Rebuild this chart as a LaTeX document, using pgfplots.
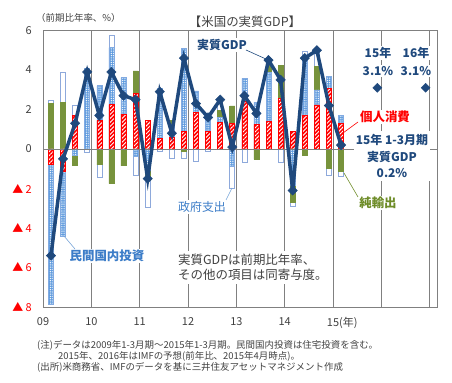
\documentclass[border=0pt]{standalone}
\usepackage{fontspec}
\setmainfont{Noto Sans CJK JP}
\usepackage{pgfplots}
\pgfplotsset{compat=1.18}
\usepackage{pgfplotstable}
\usetikzlibrary{patterns.meta}

\definecolor{navy}{RGB}{31,73,125}
\definecolor{invblue}{RGB}{95,155,222}
\definecolor{invedge}{RGB}{130,170,225}
\definecolor{govblue}{RGB}{142,169,219}
\definecolor{olive}{RGB}{119,147,60}
\definecolor{gridgray}{RGB}{128,128,128}
\definecolor{txtgray}{RGB}{64,64,64}
\definecolor{lblblue}{RGB}{60,125,200}
\definecolor{lblolive}{RGB}{110,140,40}

% x = quarter position (2009Q1 ... 2015Q1), c = consumption, i = private investment,
% n = net exports, g = government, gdp = real GDP (q/q annualised)
\pgfplotstableread{
x     c     i     n     g     gdp
0.66  -0.80 -7.05 2.30  0.15  -5.4
1.66  -1.15 -3.25 2.35  1.55  -0.5
2.66  1.70  -0.30 -0.55 0.50  1.3
3.66  0.00  4.10  0.00  -0.17 3.9
4.66  1.45  1.75  -0.80 -0.62 1.7
5.66  2.25  2.88  -1.75 0.62  3.9
6.66  1.77  1.85  -0.85 0.00  2.7
7.66  2.80  -0.35 1.15  -0.97 2.5
8.66  1.43  -1.10 -0.50 -1.35 -1.5
9.66  0.55  2.50  0.00  -0.10 2.9
10.66 0.57  0.68  0.18  -0.47 0.8
11.66 0.91  4.19  -0.13 -0.34 4.6
12.66 1.86  1.08  0.00  -0.60 2.3
13.66 0.88  0.80  0.00  -0.10 1.6
14.66 1.35  0.25  0.35  0.55  2.5
15.66 1.30  -0.90 0.88  -1.10 0.1
16.66 2.40  1.18  0.00  -0.68 2.7
17.66 1.25  1.12  -0.52 0.00  1.8
18.66 1.38  2.48  0.39  0.25  4.5
19.66 2.57  0.00  1.68  -0.69 3.5
20.66 0.88  -1.85 -0.85 -0.20 -2.1
21.66 1.72  3.04  -0.30 0.20  4.6
22.66 2.23  0.76  1.18  0.68  5.0
23.66 3.07  0.59  -0.98 -0.34 2.2
24.66 1.30  0.42  -1.15 -0.22 0.2
}\gdpdata

\pgfplotsset{
  barbase/.style={ybar, bar width=5bp, bar shift=0pt, line width=0.6bp, forget plot},
  cbar/.style={barbase, draw=red, fill=red,
    postaction={pattern={Lines[angle=45,distance=2.8bp,line width=0.9bp]}, pattern color=white}},
  ibar/.style={barbase, draw=invedge, fill=invblue,
    postaction={pattern={Dots[distance=1.8bp,radius=0.55bp]}, pattern color=white}},
  nbar/.style={barbase, draw=olive, fill=olive},
  gbar/.style={barbase, draw=govblue, fill=white},
}

\begin{document}
\begin{tikzpicture}
\begin{axis}[
  at={(43bp,76bp)}, anchor=south west,
  scale only axis, width=394bp, height=276.5bp,
  xmin=0, xmax=32.6, ymin=-8, ymax=6,
  xtick={0,4,...,32},
  xticklabels={09,10,11,12,13,14,{15\rlap{(年)}},{},{}},
  ytick={-8,-6,...,6},
  yticklabels={{\textcolor{red}{▲ 8}},{\textcolor{red}{▲ 6}},{\textcolor{red}{▲ 4}},{\textcolor{red}{▲ 2}},0,2,4,6},
  xmajorgrids,
  major grid style={gridgray, line width=0.8bp},
  axis line style={gridgray, line width=0.8bp},
  major tick length=0pt,
  tick label style={font=\fontsize{11}{11}\selectfont, text=txtgray},
  yticklabel style={anchor=east, inner sep=0pt, xshift=-11bp},
  xticklabel style={anchor=north, inner sep=0pt, yshift=-10bp},
]
% positive stacks (layers drawn from the top segment down)
\addplot[gbar, restrict expr to domain={\thisrow{g}}{0.0001:100}] table[x=x, y expr={max(\thisrow{c},0)+max(\thisrow{i},0)+max(\thisrow{n},0)+\thisrow{g}}] {\gdpdata};
\addplot[nbar, restrict expr to domain={\thisrow{n}}{0.0001:100}] table[x=x, y expr={max(\thisrow{c},0)+max(\thisrow{i},0)+\thisrow{n}}] {\gdpdata};
\addplot[ibar, restrict expr to domain={\thisrow{i}}{0.0001:100}] table[x=x, y expr={max(\thisrow{c},0)+\thisrow{i}}] {\gdpdata};
\addplot[cbar, restrict expr to domain={\thisrow{c}}{0.0001:100}] table[x=x, y=c] {\gdpdata};
% negative stacks
\addplot[gbar, restrict expr to domain={\thisrow{g}}{-100:-0.0001}] table[x=x, y expr={min(\thisrow{c},0)+min(\thisrow{i},0)+min(\thisrow{n},0)+\thisrow{g}}] {\gdpdata};
\addplot[nbar, restrict expr to domain={\thisrow{n}}{-100:-0.0001}] table[x=x, y expr={min(\thisrow{c},0)+min(\thisrow{i},0)+\thisrow{n}}] {\gdpdata};
\addplot[ibar, restrict expr to domain={\thisrow{i}}{-100:-0.0001}] table[x=x, y expr={min(\thisrow{c},0)+\thisrow{i}}] {\gdpdata};
\addplot[cbar, restrict expr to domain={\thisrow{c}}{-100:-0.0001}] table[x=x, y=c] {\gdpdata};

\draw[gridgray, line width=0.8bp] (axis cs:0,0) -- (axis cs:32.6,0);

\addplot[navy, line width=3.5bp, mark=square*, mark size=3.3bp,
  mark options={fill=navy, rotate=45, line width=0.5bp}] table[x=x, y=gdp] {\gdpdata};
\addplot[only marks, navy, mark=square*, mark size=3.2bp, mark options={fill=navy, rotate=45}]
  coordinates {(27.66,3.1) (31.66,3.1)};
\end{axis}

\begin{scope}[x=1bp, y=-1bp, shift={(0bp,383bp)}]
\node[anchor=west, font=\fontsize{9.5}{10}\selectfont, text=txtgray, inner sep=0] at (36,18) {（前期比年率、\%）};
\node[font=\fontsize{12.5}{13}\selectfont, text=txtgray, inner sep=0] at (245,22) {【米国の実質GDP】};

\node[anchor=west, font=\bfseries\fontsize{12}{12}\selectfont, text=navy, fill=white, inner sep=1bp] at (196,45) {実質GDP};
\draw[navy, line width=0.6bp] (246,50) -- (267,59.5);

\node[font=\bfseries\fontsize{12}{12}\selectfont, text=navy, fill=white, inner sep=1.5bp] at (378,53) {15年};
\node[font=\bfseries\fontsize{12}{12}\selectfont, text=navy, fill=white, inner sep=1.5bp] at (378,71) {3.1\%};
\node[font=\bfseries\fontsize{12}{12}\selectfont, text=navy, fill=white, inner sep=1.5bp] at (416,53) {16年};
\node[font=\bfseries\fontsize{12}{12}\selectfont, text=navy, fill=white, inner sep=1.5bp] at (416,71) {3.1\%};

\node[font=\bfseries\fontsize{12.5}{13}\selectfont, text=red, fill=white, inner sep=1bp] at (385,117) {個人消費};
\draw[red, line width=0.6bp] (358,122) -- (343,133);

\node[font=\bfseries\fontsize{12}{17}\selectfont, text=navy, fill=white, align=center, inner xsep=2bp, inner ysep=3bp] at (392,156) {15年 1-3月期\\実質GDP\\0.2\%};

\node[font=\bfseries\fontsize{12.5}{13}\selectfont, text=lblolive, fill=white, inner sep=1bp] at (378,203) {純輸出};
\draw[lblolive, line width=0.6bp] (344,173) -- (358,197);

\node[font=\fontsize{12}{12}\selectfont, text=lblblue, fill=white, inner sep=1bp] at (202,207) {政府支出};
\draw[lblblue!70, line width=0.6bp] (232,188) -- (226,200);

\node[font=\bfseries\fontsize{12.5}{13}\selectfont, text=lblblue, fill=white, inner sep=1bp] at (107,256) {民間国内投資};
\draw[lblblue!70, line width=0.6bp] (64,236) -- (75,249);

\node[anchor=north west, fill=white, align=left, font=\fontsize{12.5}{15}\selectfont, text=txtgray, inner sep=3bp] at (175,251) {実質GDPは前期比年率、\\その他の項目は同寄与度。};

\node[anchor=west, font=\fontsize{9.5}{10}\selectfont, text=txtgray, inner sep=0] at (37,345) {(注)データは2009年1-3月期～2015年1-3月期。民間国内投資は住宅投資を含む。};
\node[anchor=west, font=\fontsize{9.5}{10}\selectfont, text=txtgray, inner sep=0] at (58,356) {2015年、2016年はIMFの予想(前年比、2015年4月時点)。};
\node[anchor=west, font=\fontsize{9.5}{10}\selectfont, text=txtgray, inner sep=0] at (37,367) {(出所)米商務省、IMFのデータを基に三井住友アセットマネジメント作成};
\end{scope}

\pgfresetboundingbox
\path[use as bounding box] (0,0) rectangle (452bp,383bp);
\end{tikzpicture}
\end{document}
